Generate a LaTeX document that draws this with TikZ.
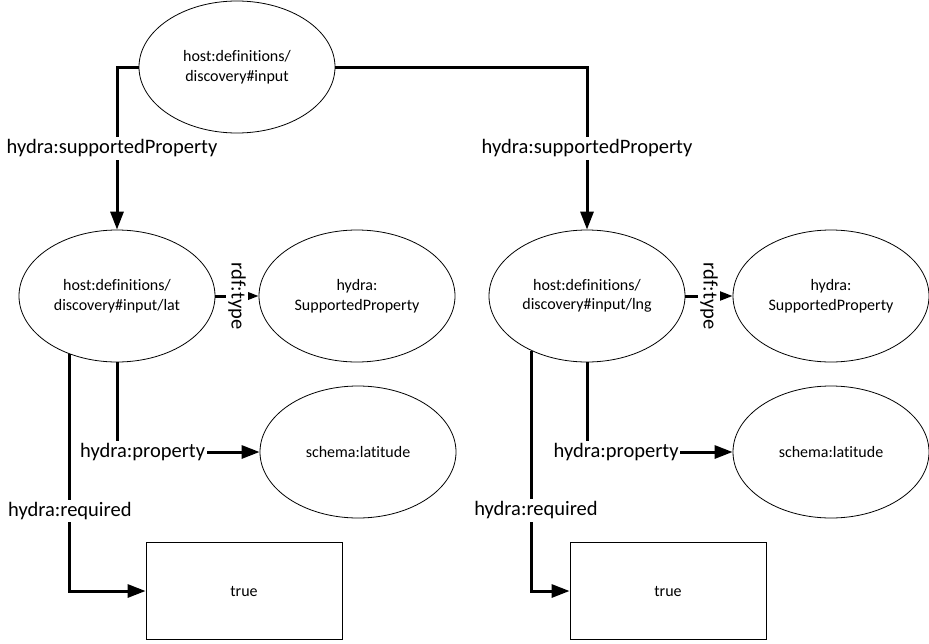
\documentclass[tikz,border=0pt]{standalone}
\usepackage{fontspec}
\setmainfont[Ligatures=NoCommon]{Carlito}
\usetikzlibrary{shapes.geometric,arrows.meta}
\begin{document}
\begin{tikzpicture}[x=1pt,y=-1pt,
  res/.style={ellipse,draw,line width=0.8pt,minimum width=196pt,minimum height=132pt,
    inner sep=0pt,align=center,font=\fontsize{16}{19.5}\selectfont},
  lit/.style={rectangle,draw,line width=0.8pt,minimum width=196pt,minimum height=97pt,
    inner sep=0pt,font=\fontsize{16}{19.5}\selectfont},
  conn/.style={line width=3pt,-{Triangle[length=18pt,width=13pt]}},
  elabel/.style={fill=white,inner xsep=1.5pt,inner ysep=2.5pt,
    font=\fontsize{20.5}{24}\selectfont}]
\useasboundingbox (0,0) rectangle (929,643);

% resources
\node[res] (in)   at (237,67)  {host:definitions/\\discovery\#input};
\node[res] (lat)  at (117,296) {host:definitions/\\discovery\#input/lat};
\node[res] (spL)  at (357,296) {hydra:\\SupportedProperty};
\node[res] (slL)  at (358,452) {schema:latitude};
\node[lit] (tL)   at (244,591) {true};

\node[res] (lng)  at (587,296) {host:definitions/\\discovery\#input/lng};
\node[res] (spR)  at (831,296) {hydra:\\SupportedProperty};
\node[res] (slR)  at (831,452) {schema:latitude};
\node[lit] (tR)   at (668,591) {true};

% supported properties
\draw[conn] (in.west) -| node[elabel,pos=0.75,xshift=-5pt] {hydra:supportedProperty} (lat.north);
\draw[conn] (in.east) -| node[elabel,pos=0.75] {hydra:supportedProperty} (lng.north);

% types
\draw[conn] (lat.east) -- node[elabel,rotate=-90] {rdf:type} (spL.west);
\draw[conn] (lng.east) -- node[elabel,rotate=-90] {rdf:type} (spR.west);

% properties
\draw[conn] (lat.south) |- node[elabel,pos=0.59] {hydra:property} (slL.west);
\draw[conn] (lng.south) |- node[elabel,pos=0.6] {hydra:property} (slR.west);

% required flags
\draw[conn] (lat.231) |- node[elabel,pos=0.331] {hydra:required} (tL.west);
\draw[conn] (lng.225.5) |- node[elabel,pos=0.332,xshift=4pt] {hydra:required} (tR.west);
\end{tikzpicture}
\end{document}
